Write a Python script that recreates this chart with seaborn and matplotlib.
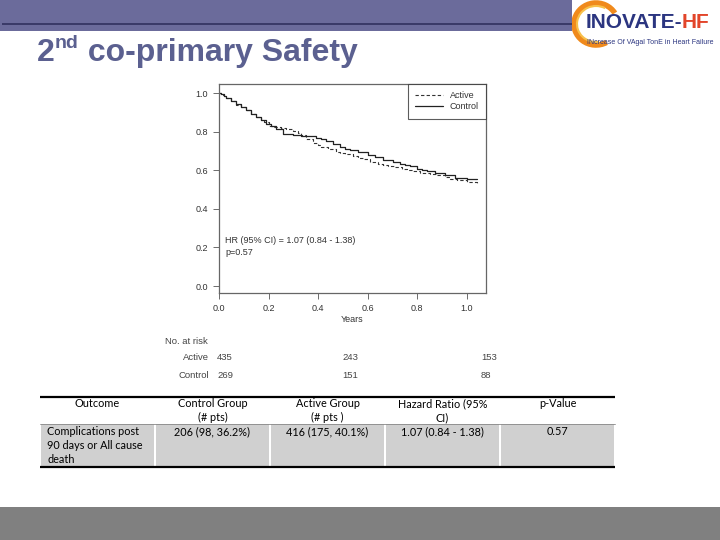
import numpy as np
import pandas as pd
import matplotlib
matplotlib.use("Agg")
import matplotlib.pyplot as plt
from matplotlib.patches import Rectangle, Arc
import seaborn as sns

sns.set_theme(style="white")
plt.rcParams["font.family"] = ["Liberation Sans", "DejaVu Sans"]

# Kaplan-Meier curves (years, survival)
active_t = [0.0, 0.01, 0.02, 0.03, 0.05, 0.07, 0.09, 0.11, 0.13, 0.15, 0.17, 0.18,
            0.20, 0.22, 0.23, 0.25, 0.27, 0.30, 0.32, 0.33, 0.35,
            0.38, 0.40, 0.41, 0.44, 0.47, 0.49, 0.51, 0.54, 0.56, 0.58, 0.61, 0.64,
            0.66, 0.68, 0.71, 0.74, 0.76, 0.78, 0.81, 0.85, 0.88, 0.91, 0.93, 0.96,
            1.00, 1.04]
active_s = [1.000, 0.992, 0.983, 0.975, 0.958, 0.940, 0.926, 0.912, 0.893, 0.875, 0.862, 0.852,
            0.830, 0.826, 0.822, 0.817, 0.812, 0.803, 0.792, 0.782, 0.764,
            0.740, 0.730, 0.721, 0.708, 0.695, 0.690, 0.684, 0.672, 0.665, 0.658, 0.643, 0.632,
            0.626, 0.621, 0.617, 0.609, 0.603, 0.597, 0.586, 0.580, 0.574, 0.566, 0.557, 0.548,
            0.540, 0.534]
control_t = [0.0, 0.01, 0.02, 0.03, 0.05, 0.07, 0.09, 0.11, 0.13, 0.15, 0.17, 0.19,
             0.21, 0.23, 0.26, 0.30, 0.33, 0.37, 0.39,
             0.41, 0.43, 0.46, 0.49, 0.51, 0.53, 0.56, 0.60, 0.63, 0.66, 0.70, 0.73,
             0.75, 0.77, 0.80, 0.82, 0.84, 0.87, 0.91, 0.95, 1.00, 1.04]
control_s = [1.000, 0.993, 0.983, 0.972, 0.958, 0.945, 0.928, 0.910, 0.893, 0.876, 0.860, 0.841,
             0.828, 0.816, 0.790, 0.784, 0.778, 0.775, 0.769,
             0.760, 0.752, 0.738, 0.722, 0.712, 0.703, 0.695, 0.680, 0.669, 0.652, 0.645, 0.634,
             0.628, 0.621, 0.609, 0.603, 0.598, 0.586, 0.574, 0.562, 0.557, 0.553]

risk_groups = ["Active", "Control"]
risk_active = ["435", "243", "153"]
risk_control = ["269", "151", "88"]

table_header = ["Outcome", "Control Group\n(# pts)", "Active Group\n(# pts )",
                "Hazard Ratio (95%\nCI)", "p-Value"]
table_row = ["Complications post\n90 days or All cause\ndeath", "206 (98, 36.2%)",
             "416 (175, 40.1%)", "1.07 (0.84 - 1.38)", "0.57"]

W, H = 720, 540
fig = plt.figure(figsize=(7.2, 5.4), dpi=100)
fig.patch.set_facecolor("white")


def fx(px):
    return px / W


def fy(py):
    return 1 - py / H


# header band and footer band
fig.patches.append(Rectangle((0, fy(31)), fx(572), 31 / H, transform=fig.transFigure,
                             facecolor="#6b6b9b", edgecolor="none", zorder=0))
fig.patches.append(Rectangle((fx(2), fy(25)), fx(570), 2 / H, transform=fig.transFigure,
                             facecolor="#3a3a68", edgecolor="none", zorder=1))
fig.patches.append(Rectangle((0, 0), 1, 33 / H, transform=fig.transFigure,
                             facecolor="#808080", edgecolor="none", zorder=0))

# logo
logo = fig.add_axes([fx(560), fy(48), fx(160), 48 / H])
logo.set_xlim(0, 160)
logo.set_ylim(48, 0)
logo.axis("off")
logo.add_patch(Arc((36, 24), 44, 42, theta1=60, theta2=330, color="#f08a1c", lw=4))
logo.add_patch(Arc((36, 24), 38, 36, theta1=80, theta2=300, color="#f7c04a", lw=1.5))
lt = logo.text(26, 23, "INOVATE-", color="#2b3580", fontsize=15, fontweight="bold",
               va="center", ha="left")
fig.canvas.draw()
r = fig.canvas.get_renderer()
lbb = lt.get_window_extent(r)
hf_x = logo.transData.inverted().transform((lbb.x1 - 1, 0))[0]
logo.text(hf_x, 23, "HF", color="#e2452a", fontsize=15, fontweight="bold",
          va="center", ha="left")
logo.text(27, 42, "INcrease Of VAgal TonE in Heart Failure", color="#2b3580",
          fontsize=5.0, va="center", ha="left")

# title with superscript
tcol = "#5b6090"
t1 = fig.text(fx(37), fy(61), "2", fontsize=23, fontweight="bold", color=tcol,
              va="baseline")
bb = t1.get_window_extent(r)
t2 = fig.text(bb.x1 / W, fy(48), "nd", fontsize=14, fontweight="bold", color=tcol,
              va="baseline")
bb2 = t2.get_window_extent(r)
fig.text(bb2.x1 / W, fy(61), " co-primary Safety", fontsize=23, fontweight="bold",
         color=tcol, va="baseline")

# KM plot
ax = fig.add_axes([fx(219), fy(293), fx(486 - 219), (293 - 84) / H])
km = pd.concat([
    pd.DataFrame({"t": active_t, "s": active_s, "group": "Active"}),
    pd.DataFrame({"t": control_t, "s": control_s, "group": "Control"}),
])
sns.lineplot(data=km[km.group == "Active"], x="t", y="s", ax=ax, color="#333333",
             linestyle=(0, (3, 2)), linewidth=0.8, drawstyle="steps-post",
             estimator=None, sort=False, label="Active")
sns.lineplot(data=km[km.group == "Control"], x="t", y="s", ax=ax, color="#222222",
             linestyle="-", linewidth=0.9, drawstyle="steps-post",
             estimator=None, sort=False, label="Control")
ax.set_xlim(0, 1.077)
ax.set_ylim(-0.036, 1.047)
ax.set_xticks([0, 0.2, 0.4, 0.6, 0.8, 1.0])
ax.set_yticks([0, 0.2, 0.4, 0.6, 0.8, 1.0])
ax.set_xticklabels(["0.0", "0.2", "0.4", "0.6", "0.8", "1.0"])
ax.set_yticklabels(["0.0", "0.2", "0.4", "0.6", "0.8", "1.0"])
ax.tick_params(axis="both", direction="out", length=4, width=0.6, colors="#555555",
               labelsize=6.5, labelcolor="#333333", pad=4, left=True, bottom=True)
for sp in ax.spines.values():
    sp.set_color("#666666")
    sp.set_linewidth(0.9)
ax.set_xlabel("Years", fontsize=6.5, color="#333333", labelpad=1)
ax.set_ylabel("")
ax.text(0.025, 0.205, "HR (95% CI) = 1.07 (0.84 - 1.38)\np=0.57", fontsize=6.5,
        color="#333333", va="center", ha="left", linespacing=1.3)
leg = ax.legend(loc="upper right", fontsize=6.5, frameon=True, fancybox=False,
                borderaxespad=0, handlelength=3, borderpad=0.8, labelspacing=0.25,
                handletextpad=0.8)
leg.get_frame().set_edgecolor("#333333")
leg.get_frame().set_linewidth(0.8)
for t in leg.get_texts():
    t.set_color("#333333")

# number at risk
rc = "#444444"
fig.text(fx(165), fy(341), "No. at risk", fontsize=6.8, color=rc, va="center")
risk_x = [217, 342, 481]
for row_y, name, vals in [(358, risk_groups[0], risk_active), (376, risk_groups[1], risk_control)]:
    fig.text(fx(209), fy(row_y), name, fontsize=6.8, color=rc, va="center", ha="right")
    for xx, v in zip(risk_x, vals):
        fig.text(fx(xx), fy(row_y), v, fontsize=6.8, color=rc, va="center", ha="left")

# results table
tb = fig.add_axes([0, 0, 1, 1], zorder=-1)
tb.set_xlim(0, W)
tb.set_ylim(H, 0)
tb.axis("off")
col_edges = [40, 155, 270, 385, 500, 615]
for i in range(5):
    tb.add_patch(Rectangle((col_edges[i] + 1, 424), col_edges[i + 1] - col_edges[i] - 2, 43,
                           facecolor="#d0d0d0", edgecolor="none"))
tb.plot([40, 615], [397, 397], color="black", lw=1.6, solid_capstyle="butt")
tb.plot([40, 615], [424, 424], color="#888888", lw=0.6)
tb.plot([40, 615], [467, 467], color="black", lw=1.6, solid_capstyle="butt")
tfont = "Lato"
for i, txt in enumerate(table_header):
    cx = (col_edges[i] + col_edges[i + 1]) / 2
    tb.text(cx, 398, txt, fontsize=7.8, family=tfont, ha="center", va="top",
            color="black", linespacing=1.35)
for i, txt in enumerate(table_row):
    if i == 0:
        tb.text(col_edges[0] + 7, 426, txt, fontsize=7.8, family=tfont, ha="left",
                va="top", color="black", linespacing=1.35)
    else:
        cx = (col_edges[i] + col_edges[i + 1]) / 2
        tb.text(cx, 426, txt, fontsize=7.8, family=tfont, ha="center", va="top",
                color="black", linespacing=1.35)

fig.savefig("out.png", dpi=100)
